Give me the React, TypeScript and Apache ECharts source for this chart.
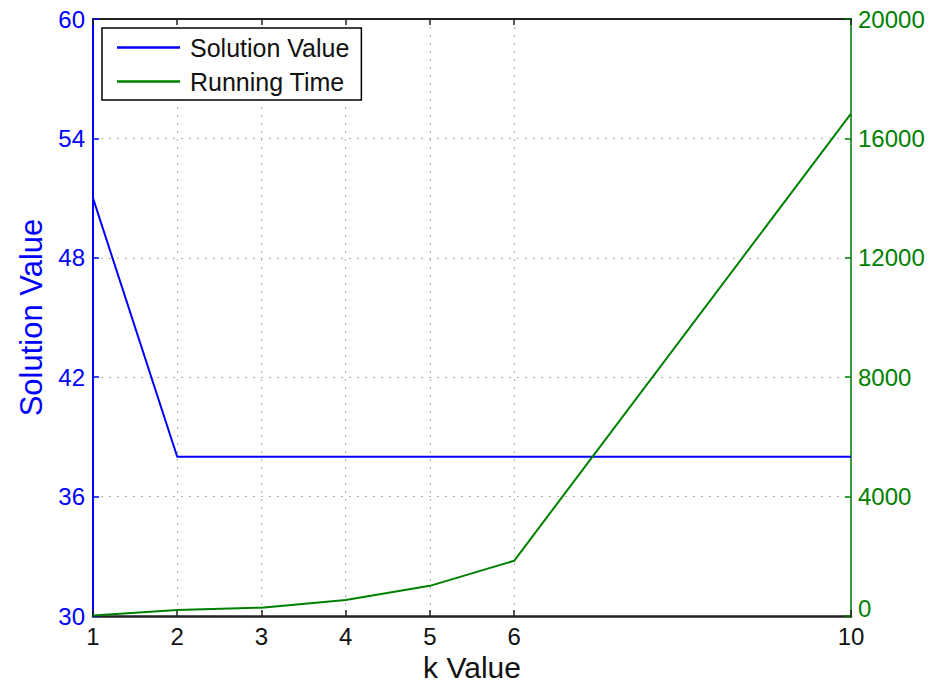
import React, { useEffect, useRef } from "react";
import * as echarts from "echarts";

const kValues = [1, 2, 3, 4, 5, 6, 10];
const solutionValues = [51, 38, 38, 38, 38, 38, 38];
const runningTimes = [20, 200, 280, 535, 1010, 1850, 16830];
const xTicks = [1, 2, 3, 4, 5, 6, 10];

const BLUE = "#0000ff";
const GREEN = "#008000";
const FONT = "'Liberation Sans', Arial, Helvetica, sans-serif";

export default function App() {
  const ref = useRef<HTMLDivElement>(null);
  useEffect(() => {
    if (!ref.current) return;
    const chart = echarts.init(ref.current, null, { renderer: "svg" });
    const dotted = { color: "#b0b0b0", width: 1, type: [2, 6] as any };
    chart.setOption({
      animation: false,
      backgroundColor: "#fff",
      textStyle: { fontFamily: FONT },
      grid: { left: 93, right: 87, top: 19, bottom: 67, containLabel: false, outerBoundsMode: "none" },
      legend: {
        left: 102,
        top: 28,
        orient: "vertical",
        backgroundColor: "#fff",
        borderColor: "#000",
        borderWidth: 1.5,
        borderRadius: 0,
        padding: [7, 12, 6, 15],
        icon: "rect",
        itemWidth: 63,
        itemHeight: 2.5,
        itemGap: 9,
        textStyle: { fontSize: 25, color: "#111", fontFamily: FONT, padding: [0, 0, 0, 5] },
        data: ["Solution Value", "Running Time"],
      },
      xAxis: [
        {
          type: "value",
          min: 1,
          max: 10,
          position: "bottom",
          name: "k Value",
          nameLocation: "middle",
          nameGap: 32,
          nameTextStyle: { fontSize: 30, color: "#111", fontFamily: FONT },
          axisLine: { lineStyle: { color: "#222", width: 2.5 } },
          axisTick: { inside: true, length: 6, customValues: xTicks, lineStyle: { color: "#222", width: 1.5 } },
          axisLabel: { customValues: xTicks, fontSize: 24, color: "#111", margin: 8, fontFamily: FONT },
          splitLine: { show: true, lineStyle: dotted },
        },
        {
          type: "value",
          min: 1,
          max: 10,
          position: "top",
          axisLine: { lineStyle: { color: "#222", width: 2 } },
          axisTick: { inside: true, length: 6, customValues: xTicks, lineStyle: { color: "#222", width: 1.5 } },
          axisLabel: { show: false },
          splitLine: { show: false },
        },
      ],
      yAxis: [
        {
          type: "value",
          min: 30,
          max: 60,
          interval: 6,
          position: "left",
          name: "Solution Value",
          nameLocation: "middle",
          nameGap: 46,
          nameTextStyle: { fontSize: 31, color: BLUE, fontFamily: FONT },
          axisLine: { show: true, lineStyle: { color: BLUE, width: 2 } },
          axisTick: { show: true, inside: true, length: 6, lineStyle: { color: BLUE, width: 1.5 } },
          axisLabel: { fontSize: 24, color: BLUE, margin: 8, fontFamily: FONT },
          splitLine: { show: true, lineStyle: dotted },
        },
        {
          type: "value",
          min: 0,
          max: 20000,
          interval: 4000,
          position: "right",
          axisLine: { show: true, lineStyle: { color: GREEN, width: 1.5 } },
          axisTick: { show: true, inside: true, length: 6, lineStyle: { color: GREEN, width: 1.5 } },
          axisLabel: {
            fontSize: 24,
            color: GREEN,
            margin: 7,
            fontFamily: FONT,
            formatter: (v: number) => (v === 0 ? "{z|0}" : String(v)),
            rich: { z: { fontSize: 24, color: GREEN, fontFamily: FONT, padding: [0, 0, 16, 0] } },
          },
          splitLine: { show: false },
        },
      ],
      series: [
        {
          name: "Solution Value",
          type: "line",
          xAxisIndex: 0,
          yAxisIndex: 0,
          symbol: "none",
          color: BLUE,
          lineStyle: { color: BLUE, width: 2 },
          data: kValues.map((k, i) => [k, solutionValues[i]]),
          z: 3,
        },
        {
          name: "Running Time",
          type: "line",
          xAxisIndex: 0,
          yAxisIndex: 1,
          symbol: "none",
          color: GREEN,
          lineStyle: { color: GREEN, width: 2 },
          data: kValues.map((k, i) => [k, runningTimes[i]]),
          z: 3,
        },
      ],
    });
    return () => chart.dispose();
  }, []);
  return (
    <div
      ref={ref}
      style={{ position: "fixed", left: 0, top: 0, width: 938, height: 683, background: "#fff" }}
    />
  );
}
